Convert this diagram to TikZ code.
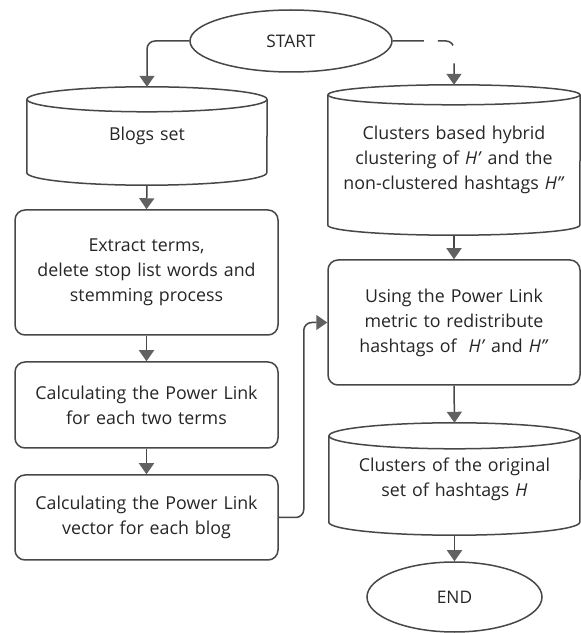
\documentclass[tikz,border=0pt]{standalone}
\usepackage{fontspec}
\setmainfont{Open Sans}
\usetikzlibrary{arrows.meta,calc,shapes.geometric}
\tikzset{
  ln/.style={draw=black!72, line width=1.5pt},
  arr/.style={ln, -{Triangle[width=15pt,length=11pt,color=black!62,fill=black!62]}},
  procbox/.style={ln, rounded corners=10pt, minimum width=263pt, align=center, text width=255pt, font=\fontsize{17.8}{25}\selectfont, inner sep=0pt, text=black!85},
  cylbody/.style={align=center, inner sep=0pt, font=\fontsize{17.8}{25}\selectfont, text=black!85},
  term/.style={ln, ellipse, inner sep=0pt, font=\fontsize{17.3}{20}\selectfont, text=black!85},
}
\newcommand{\cylout}[3]{% name, half width, ry
  \draw[ln] ($(#1.north west)+(0,-#3)$) -- ($(#1.south west)+(0,#3)$)
     arc[start angle=180,end angle=360,x radius=#2,y radius=#3]
     -- ($(#1.north east)+(0,-#3)$);
  \draw[ln] ($(#1.north)+(0,-#3)$) ellipse[x radius=#2,y radius=#3];
}
\begin{document}
\begin{tikzpicture}[x=1pt,y=1pt]
\useasboundingbox (0,0) rectangle (581,633);
\fill[white] (0,0) rectangle (581,633);
% terminals
\node[term, minimum width=202pt, minimum height=62pt] (start) at (291,592) {START};
\node[term, minimum width=175pt, minimum height=70pt] (end) at (454.5,36) {END};
% left column
\node[cylbody, minimum width=240pt, minimum height=98pt, text width=235pt] (blogs) at (147,497) {Blogs set};
\cylout{blogs}{120}{12.5}
\node[procbox, minimum height=125pt] (b1) at (146.5,360.5) {Extract terms,\\delete stop list words and\\stemming process};
\node[procbox, minimum height=86pt] (b2) at (146.5,228) {Calculating the Power Link\\for each two terms};
\node[procbox, minimum height=85pt] (b3) at (146.5,115.5) {Calculating the Power Link\\vector for each blog};
% right column
\node[cylbody, minimum width=252pt, minimum height=150pt, text width=245pt] (c1) at (454,473) {Clusters based hybrid\\clustering of \textit{H'} and the\\non-clustered hashtags \textit{H"}};
\cylout{c1}{126}{10}
\node[procbox, minimum width=252pt, text width=245pt, minimum height=125pt] (br) at (454,310.5) {Using the Power Link\\metric to redistribute\\hashtags of \ \textit{H'} and \textit{H"}};
\node[cylbody, minimum width=251pt, minimum height=112pt, text width=245pt] (c2) at (454.5,154) {Clusters of the original\\set of hashtags \textit{H}};
\cylout{c2}{125.5}{13}
% connectors
\draw[arr, rounded corners=8pt] (start.west) -| (blogs.north);
\draw[arr, rounded corners=8pt, dash pattern=on 31pt off 14pt on 17pt off 18pt on 60pt] (start.east) -| (c1.north);
\draw[arr] (blogs.south) -- (b1.north);
\draw[arr] (b1.south) -- (b2.north);
\draw[arr] (b2.south) -- (b3.north);
\draw[arr, rounded corners=8pt] (b3.east) -- ++(25,0) |- (br.west);
\draw[arr] (c1.south) -- (br.north);
\draw[arr] (br.south) -- (c2.north);
\draw[arr] (c2.south) -- (end.north);
\end{tikzpicture}
\end{document}
